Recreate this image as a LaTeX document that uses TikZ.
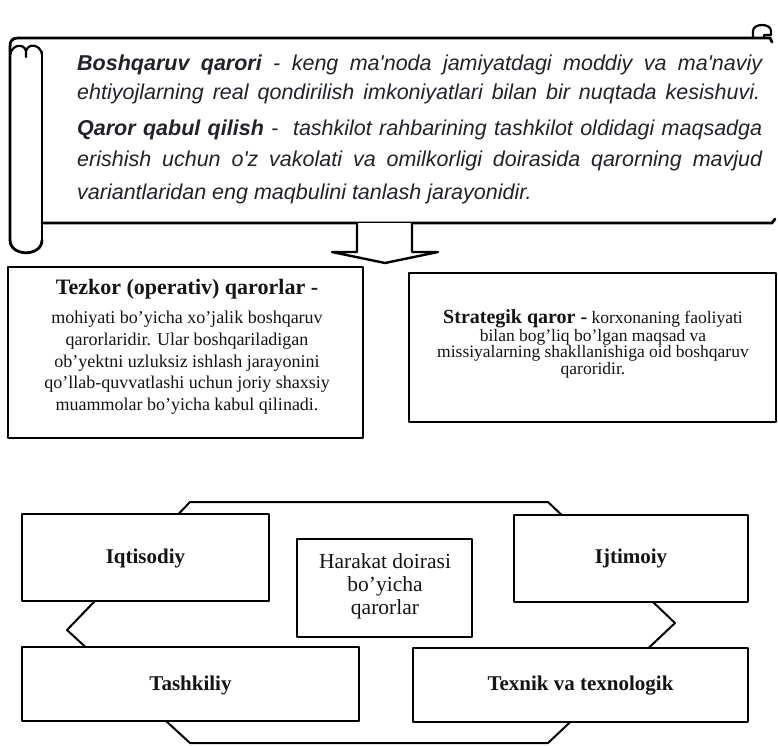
\documentclass[tikz,border=0pt]{standalone}
\usepackage{fontspec}
\setmainfont{Liberation Serif}
\newfontfamily\scrollsans{Liberation Sans}
\definecolor{scrolltext}{HTML}{222228}
\definecolor{boxtext}{HTML}{141414}
\tikzset{
  outline/.style={line width=2.4pt, draw=black, line join=round, line cap=round},
  box/.style={outline, fill=white, inner sep=0pt},
  jline/.style={anchor=west, inner sep=0pt, text=scrolltext,
    font=\scrollsans\itshape\fontsize{21.5}{26}\selectfont},
  boxlabel/.style={inner sep=0pt, align=center, text=boxtext},
  bigbold/.style={boxlabel, font=\bfseries\fontsize{21}{24}\selectfont},
}
\begin{document}
\begin{tikzpicture}[x=1pt,y=-1pt]
\useasboundingbox (0,0) rectangle (778,745);

% ---------- scroll ----------
\draw[outline, line width=2.8pt]
  (10,240) -- (10,47) .. controls (10,41) and (12,38) .. (18,38) -- (770,38) -- (772,42);
\draw[outline, line width=2.8pt] (42,52) -- (42,240);
\draw[outline, line width=2.8pt]
  (10,240) .. controls (10,257) and (42,257) .. (42,240);
\draw[outline, line width=2.8pt] (42,223) -- (772,223) -- (775,219);
% top-left curl
\draw[outline, line width=2.2pt]
  (10,55) .. controls (12,44) and (24,43) .. (26,51) -- (26,57);
\draw[outline, line width=2.2pt]
  (26,51) .. controls (28,43) and (40,44) .. (42,54);
% top-right curl
\draw[outline, line width=2.2pt]
  (753,38) -- (753,31) .. controls (753,23) and (771,23) .. (771,31) -- (771,35) -- (764,35) -- (764,38);

\node[jline] (l1) at (77,65) {\makebox[685pt][s]{\textbf{Boshqaruv qarori} - keng ma'noda jamiyatdagi moddiy va ma'naviy}};
\node[jline] (l2) at (77,94) {\makebox[683pt][s]{ehtiyojlarning real qondirilish imkoniyatlari bilan bir nuqtada kesishuvi.}};
\node[jline] (l3) at (77,130) {\makebox[685pt][s]{\textbf{Qaror qabul qilish} -\ \ tashkilot rahbarining tashkilot oldidagi maqsadga}};
\node[jline] (l4) at (77,161) {\makebox[685pt][s]{erishish uchun o'z vakolati va omilkorligi doirasida qarorning mavjud}};
\node[jline] (l5) at (77,194) {variantlaridan eng maqbulini tanlash jarayonidir.};

% ---------- block arrow ----------
\draw[outline, fill=white]
  (357,223) -- (357,252) -- (332,252) -- (385,263) -- (438,252) -- (412,252) -- (412,223);

% ---------- definition boxes ----------
\node[box, minimum width=355pt, minimum height=171pt] (tezkor) at (185.5,352.5) {};
\node[boxlabel, font=\fontsize{18}{21.7}\selectfont] (tezkortext) at (187,347)
  {{\fontsize{22}{21.7}\selectfont\bfseries Tezkor (operativ) qarorlar -}\\[7pt]
   mohiyati bo'yicha xo'jalik boshqaruv\\
   qarorlaridir. Ular boshqariladigan\\
   ob'yektni uzluksiz ishlash jarayonini\\
   qo'llab-quvvatlashi uchun joriy shaxsiy\\
   muammolar bo'yicha kabul qilinadi.};

\node[box, minimum width=367pt, minimum height=149pt] (strategik) at (592.5,347.5) {};
\node[boxlabel, font=\fontsize{17.5}{16.5}\selectfont] (strategiktext) at (593,344)
  {{\fontsize{20}{16.5}\selectfont\bfseries Strategik qaror -} korxonaning faoliyati\\
   bilan bog'liq bo'lgan maqsad va\\
   missiyalarning shakllanishiga oid boshqaruv\\
   qaroridir.};

% ---------- hexagon background ----------
\draw[line width=2pt, line join=round]
  (190,502) -- (548,502) -- (675,623) -- (548,743) -- (190,743) -- (67,630) -- cycle;

% ---------- bottom boxes ----------
\node[box, minimum width=247pt, minimum height=87pt] (iqtisodiy) at (145.5,557.5) {};
\node[bigbold] (iqtisodiytext) at (145.5,558) {Iqtisodiy};

\node[box, minimum width=234pt, minimum height=87pt] (ijtimoiy) at (631,558.5) {};
\node[bigbold] (ijtimoiytext) at (631,558) {Ijtimoiy};

\node[box, minimum width=175pt, minimum height=98pt] (harakat) at (384.5,588) {};
\node[boxlabel, font=\fontsize{21.5}{23}\selectfont] (harakattext) at (385,586)
  {Harakat doirasi\\bo'yicha\\qarorlar};

\node[box, minimum width=337pt, minimum height=74pt] (tashkiliy) at (190.5,684) {};
\node[bigbold] (tashkiliytext) at (190.5,685) {Tashkiliy};

\node[box, minimum width=335pt, minimum height=74pt] (texnik) at (580.5,685) {};
\node[bigbold] (texniktext) at (580.5,686) {Texnik va texnologik};
\end{tikzpicture}
\end{document}
